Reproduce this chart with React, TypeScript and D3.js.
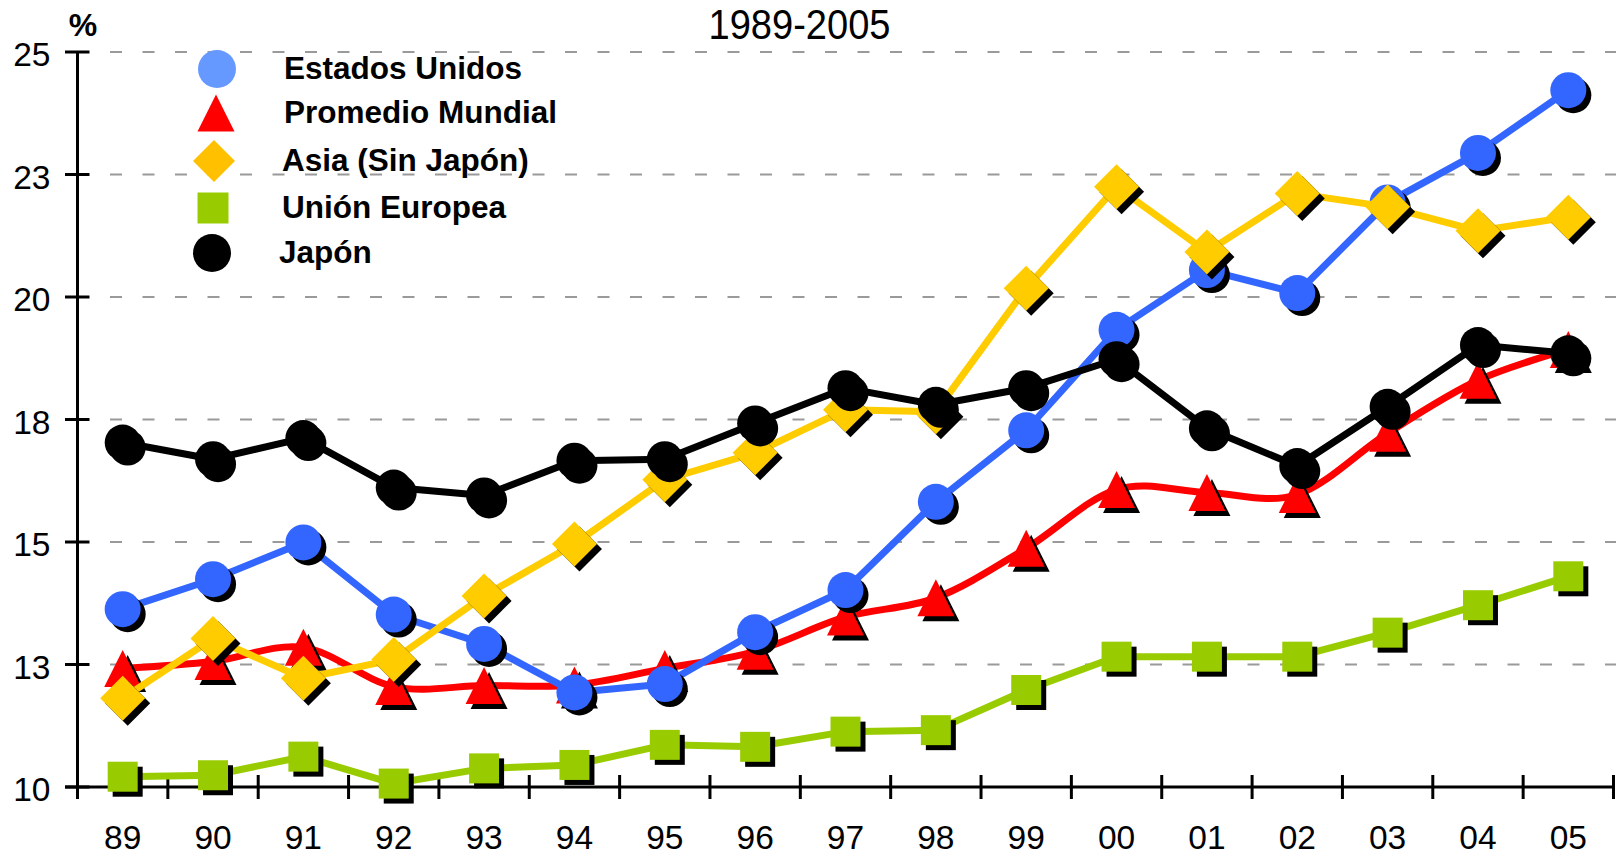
import React from "react";
import * as d3 from "d3";

const categories = ["89", "90", "91", "92", "93", "94", "95", "96", "97", "98", "99", "00", "01", "02", "03", "04", "05"];

const estadosUnidos = [13.63, 14.24, 14.99, 13.52, 12.92, 11.93, 12.1, 13.16, 14.02, 15.82, 17.28, 19.33, 20.55, 20.08, 21.93, 22.94, 24.22];
const promedioMundial = [12.42, 12.56, 12.85, 12.05, 12.07, 12.08, 12.42, 12.77, 13.47, 13.86, 14.87, 16.07, 16.01, 15.97, 17.22, 18.3, 18.93];
const asiaSinJapon = [11.81, 13.03, 12.22, 12.6, 13.9, 14.96, 16.27, 16.82, 17.7, 17.66, 20.18, 22.25, 20.92, 22.11, 21.84, 21.35, 21.63];
const unionEuropea = [10.21, 10.24, 10.62, 10.07, 10.38, 10.45, 10.86, 10.82, 11.13, 11.16, 11.98, 12.66, 12.66, 12.66, 13.15, 13.71, 14.3];
const japon = [17.03, 16.69, 17.12, 16.11, 15.95, 16.66, 16.69, 17.42, 18.14, 17.8, 18.14, 18.73, 17.32, 16.55, 17.76, 19.02, 18.85];

const yTicks = [10, 12.5, 15, 17.5, 20, 22.5, 25];
const yTickLabels = ["10", "13", "15", "18", "20", "23", "25"];

const title = "1989-2005";
const unitLabel = "%";

type Shape = "circle" | "triangle" | "diamond" | "square";

const seriesNames = ["Estados Unidos", "Promedio Mundial", "Asia (Sin Japón)", "Unión Europea", "Japón"];

const FONT = "'Liberation Sans', Arial, Helvetica, sans-serif";

function shapePath(shape: Shape, cx: number, cy: number, s: number): string {
  if (shape === "circle") {
    const r = s / 2;
    return `M${cx - r},${cy}a${r},${r} 0 1,0 ${2 * r},0a${r},${r} 0 1,0 ${-2 * r},0Z`;
  }
  if (shape === "triangle") {
    const h = s / 2;
    return `M${cx},${cy - h}L${cx + h},${cy + h}L${cx - h},${cy + h}Z`;
  }
  if (shape === "diamond") {
    const h = s / 2;
    return `M${cx},${cy - h}L${cx + h},${cy}L${cx},${cy + h}L${cx - h},${cy}Z`;
  }
  const h = s / 2;
  return `M${cx - h},${cy - h}H${cx + h}V${cy + h}H${cx - h}Z`;
}

export default function App() {
  const W = 1616;
  const H = 856;
  const x = d3.scaleBand<string>().domain(categories).range([77.5, 1613.5]).padding(0);
  const y = d3.scaleLinear().domain([10, 25]).range([787, 52]);
  const cx = (c: string) => (x(c) as number) + x.bandwidth() / 2;

  const series = [
    { name: seriesNames[3], values: unionEuropea, color: "#99CC00", legendColor: "#99CC00", shape: "square" as Shape, size: 30, legendSize: 31, smooth: false },
    { name: seriesNames[1], values: promedioMundial, color: "#FF0000", legendColor: "#FF0000", shape: "triangle" as Shape, size: 37, legendSize: 37, smooth: true },
    { name: seriesNames[0], values: estadosUnidos, color: "#3366FF", legendColor: "#6699FF", shape: "circle" as Shape, size: 36, legendSize: 38, smooth: false },
    { name: seriesNames[2], values: asiaSinJapon, color: "#FFCC00", legendColor: "#FFC000", shape: "diamond" as Shape, size: 45, legendSize: 42, smooth: false },
    { name: seriesNames[4], values: japon, color: "#000000", legendColor: "#000000", shape: "circle" as Shape, size: 36, legendSize: 38, smooth: false },
  ];

  const legendOrder = [2, 1, 3, 0, 4];
  const legendMarkerX = [217, 216, 214, 213, 212];
  const legendTextX = [284, 284, 282, 282, 279];
  const legendY = [69, 113, 161, 208, 253];

  const boundaries = [...categories.map((c) => x(c) as number), x.range()[1]];

  return (
    <svg width={W} height={H} style={{ position: "absolute", left: 0, top: 0, display: "block", background: "#fff" }} fontFamily={FONT}>
      <rect x={0} y={0} width={W} height={H} fill="#fff" />
      {/* gridlines */}
      {yTicks.filter((t) => t > 10).map((t) => (
        <line key={"g" + t} x1={110} x2={W} y1={y(t)} y2={y(t)} stroke="#9a9a9a" strokeWidth={2} strokeDasharray="12 20.5" />
      ))}
      {/* axes */}
      <line x1={77.5} x2={77.5} y1={y(25)} y2={799} stroke="#000" strokeWidth={3} />
      <line x1={65} x2={1613.5} y1={y(10)} y2={y(10)} stroke="#000" strokeWidth={3} />
      {yTicks.map((t, i) => (
        <g key={"yt" + t}>
          <line x1={65} x2={89.5} y1={y(t)} y2={y(t)} stroke="#000" strokeWidth={3} />
          <text x={50.5} y={y(t) + 14} textAnchor="end" fontSize={33.5} fill="#000">{yTickLabels[i]}</text>
        </g>
      ))}
      {boundaries.map((b, i) => (
        <line key={"xt" + i} x1={b} x2={b} y1={775} y2={799} stroke="#000" strokeWidth={3} />
      ))}
      {categories.map((c) => (
        <text key={"xl" + c} x={cx(c)} y={848.5} textAnchor="middle" fontSize={33.5} fill="#000">{c}</text>
      ))}
      <text x={83} y={36} textAnchor="middle" fontSize={32} fontWeight="bold" fill="#000">{unitLabel}</text>
      <text x={799.5} y={39} textAnchor="middle" fontSize={42} textLength={182} lengthAdjust="spacingAndGlyphs"
        fontFamily="'Liberation Sans Narrow', 'Arial Narrow', 'Liberation Sans', Arial, sans-serif" fill="#000">{title}</text>

      {/* series */}
      {series.map((s) => {
        const line = d3.line<number>()
          .x((_, i) => cx(categories[i]))
          .y((v) => y(v))
          .curve(s.smooth ? d3.curveCardinal.tension(0) : d3.curveLinear);
        return (
          <g key={s.name}>
            <path d={line(s.values) || ""} fill="none" stroke={s.color} strokeWidth={7} strokeLinejoin="round" />
            {s.values.map((v, i) => (
              <path key={"sh" + i} d={shapePath(s.shape, cx(categories[i]) + 5, y(v) + 5, s.size)} fill="#000" />
            ))}
            {s.values.map((v, i) => (
              <path key={"m" + i} d={shapePath(s.shape, cx(categories[i]), y(v), s.size)} fill={s.color} />
            ))}
          </g>
        );
      })}

      {/* legend */}
      {legendOrder.map((si, k) => {
        const s = series[si];
        return (
          <g key={"lg" + k}>
            <path d={shapePath(s.shape, legendMarkerX[k], legendY[k], s.legendSize)} fill={s.legendColor} />
            <text x={legendTextX[k]} y={legendY[k] + 10} fontSize={31.5} fontWeight="bold" fill="#000">{s.name}</text>
          </g>
        );
      })}
    </svg>
  );
}
